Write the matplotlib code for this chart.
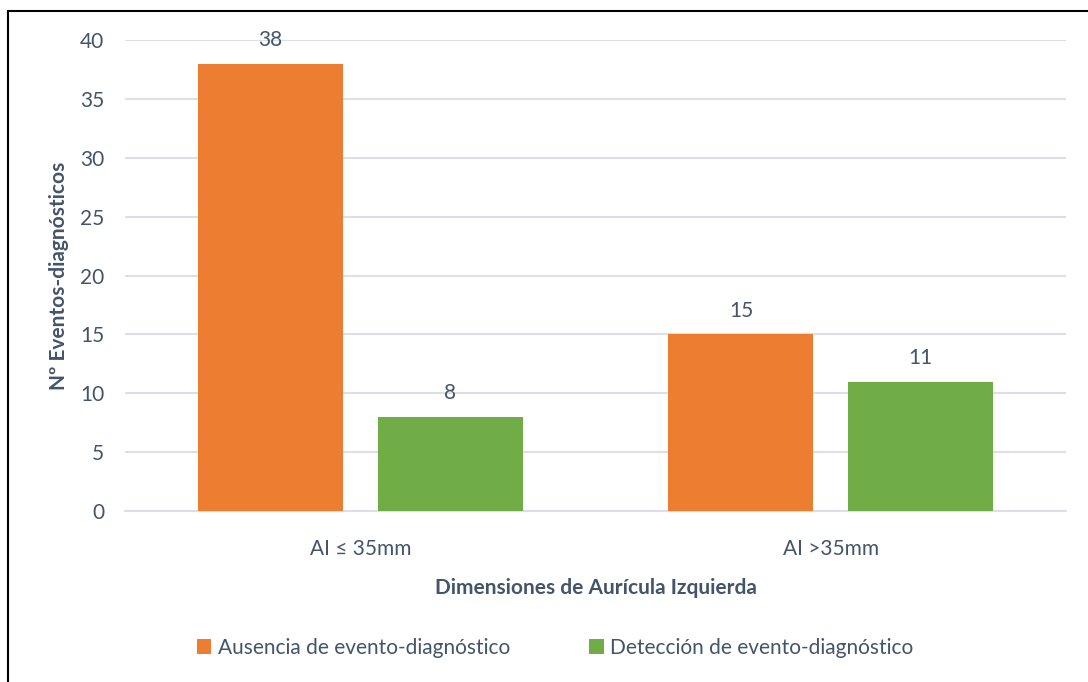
import numpy as np
import matplotlib
matplotlib.use('Agg')
import matplotlib.pyplot as plt
from matplotlib.patches import Patch, Rectangle

#Data
categories = ['AI \u2264 35mm', 'AI >35mm']
ausencia = [38, 15]
deteccion = [8, 11]
series_names = ['Ausencia de evento-diagn\u00f3stico',
                'Detecci\u00f3n de evento-diagn\u00f3stico']

#Style
cols = ['#ED7D31', '#70AD47']
txtcol = '#44546A'
gridcol = '#DCE0E6'
plt.rcParams['font.family'] = ['Lato', 'DejaVu Sans']
fsize = 15
bwidth = 0.308
offset = 0.191

fig = plt.figure(figsize=(10.88, 6.82), dpi=100)
ax = fig.add_axes([0.1149, 0.2507, 0.8649, 0.6906])

x = np.arange(len(categories))
b1 = ax.bar(x - offset, ausencia, width=bwidth, color=cols[0], zorder=3)
b2 = ax.bar(x + offset, deteccion, width=bwidth, color=cols[1], zorder=3)

#Value labels above bars
for bars in (b1, b2):
    for b in bars:
        ax.annotate(str(int(b.get_height())),
                    (b.get_x() + b.get_width() / 2, b.get_height()),
                    xytext=(0, 17), textcoords='offset points',
                    ha='center', va='center', fontsize=fsize, color=txtcol)

ax.set_xlim(-0.5, 1.5)
ax.set_ylim(0, 40)
ax.set_yticks(range(0, 41, 5))
ax.yaxis.grid(True, color=gridcol, lw=1.5, zorder=0)
ax.set_axisbelow(True)
for s in ['top', 'right', 'left']:
    ax.spines[s].set_visible(False)
ax.spines['bottom'].set_color(gridcol)
ax.spines['bottom'].set_linewidth(1.5)

ax.set_xticks(x)
ax.set_xticklabels(categories)
ax.tick_params(axis='both', length=0, labelsize=fsize, labelcolor=txtcol)
ax.tick_params(axis='x', pad=20)
ax.tick_params(axis='y', pad=15)

ax.set_xlabel('Dimensiones de Aur\u00edcula Izquierda', fontsize=fsize,
              fontweight='bold', color=txtcol, labelpad=14)
ax.set_ylabel('N\u00ba Eventos-diagn\u00f3sticos', fontsize=fsize,
              fontweight='bold', color=txtcol, labelpad=8)

#Legend
handles = [Patch(facecolor=c, edgecolor='none') for c in cols]
fig.legend(handles, series_names, loc='center', ncol=2,
           bbox_to_anchor=(0.510, 0.050), frameon=False, fontsize=fsize,
           labelcolor=txtcol, handlelength=0.7, handleheight=0.7,
           handletextpad=0.3, columnspacing=3.8)

#Outer frame (top and left edges visible)
fig.patches.append(Rectangle((8 / 1088, -0.2), 1.5, 1.2 - 11 / 682,
                             transform=fig.transFigure, fill=False,
                             edgecolor='black', lw=1.5))

plt.savefig('out.png', dpi=100)
